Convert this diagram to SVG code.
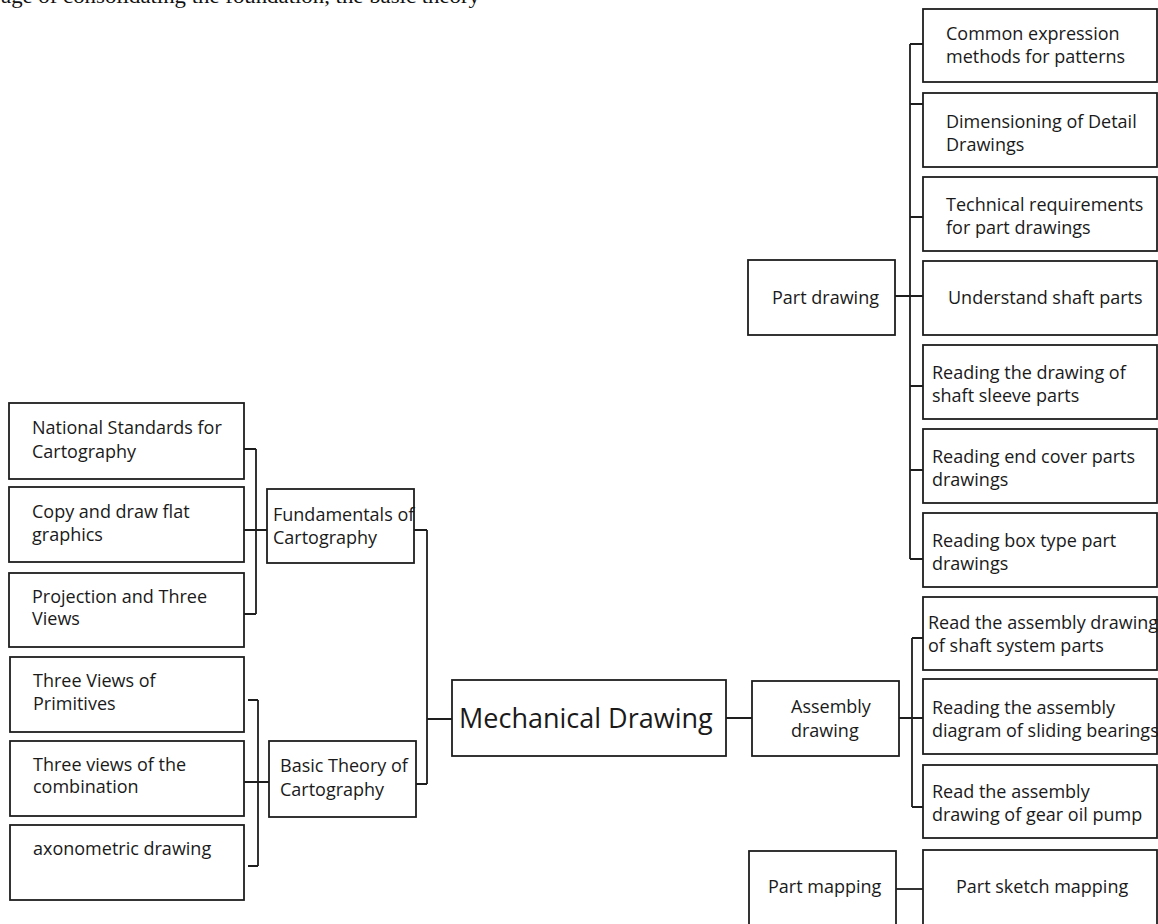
<svg xmlns="http://www.w3.org/2000/svg" width="1158" height="924" viewBox="0 0 1158 924">
<style>
.box{fill:#fff;stroke:#1e1e1e;stroke-width:1.8}
.t{font-family:"Open Sans","Liberation Sans",sans-serif;font-size:18px;fill:#1a1a1a}
.big{font-family:"Open Sans","Liberation Sans",sans-serif;font-size:27px;fill:#1a1a1a}
.c{fill:none;stroke:#1e1e1e;stroke-width:1.8}
.top{font-family:"Liberation Serif",serif;font-size:22px;fill:#111}
</style>
<rect width="1158" height="924" fill="#fff"/>
<text class="top" x="1" y="3" textLength="479" lengthAdjust="spacingAndGlyphs">age of consolidating the foundation, the basic theory</text>

<g id="connectors" class="c">
<path d="M910 44V559M910 44H923M910 104H923M910 217H923M910 386H923M910 470H923M910 559H923M895 296H923"/>
<path d="M912 638V807M912 638H923M912 807H923M899 718H923M726 718H752"/>
<path d="M896 889H923"/>
<path d="M256 449V614M244 449H256M244 614H256M244 530H267"/>
<path d="M414 530H427M427 530V784M416 784H427M427 719H452"/>
<path d="M258 700V866M248 700H258M248 866H258M244 782H269"/>
</g>

<g id="mechanical-drawing"><rect class="box" x="452" y="680" width="274" height="76"/><text class="big" x="459" y="728">Mechanical Drawing</text></g>

<g id="part-drawing"><rect class="box" x="748" y="260" width="147" height="75"/><text class="t" x="772" y="304">Part drawing</text></g>
<g id="common-expression"><rect class="box" x="923" y="9" width="234" height="73"/><text class="t" x="946" y="40">Common expression</text><text class="t" x="946" y="63">methods for patterns</text></g>
<g id="dimensioning"><rect class="box" x="923" y="93" width="234" height="74"/><text class="t" x="946" y="128">Dimensioning of Detail</text><text class="t" x="946" y="151">Drawings</text></g>
<g id="technical-requirements"><rect class="box" x="923" y="177" width="234" height="74"/><text class="t" x="946" y="211">Technical requirements</text><text class="t" x="946" y="234">for part drawings</text></g>
<g id="understand-shaft"><rect class="box" x="923" y="261" width="234" height="74"/><text class="t" x="948" y="304">Understand shaft parts</text></g>
<g id="shaft-sleeve"><rect class="box" x="923" y="345" width="234" height="74"/><text class="t" x="932" y="379">Reading the drawing of</text><text class="t" x="932" y="402">shaft sleeve parts</text></g>
<g id="end-cover"><rect class="box" x="923" y="429" width="234" height="74"/><text class="t" x="932" y="463">Reading end cover parts</text><text class="t" x="932" y="486">drawings</text></g>
<g id="box-type"><rect class="box" x="923" y="513" width="234" height="74"/><text class="t" x="932" y="547">Reading box type part</text><text class="t" x="932" y="570">drawings</text></g>

<g id="assembly-drawing"><rect class="box" x="752" y="681" width="147" height="75"/><text class="t" x="791" y="713">Assembly</text><text class="t" x="791" y="737">drawing</text></g>
<g id="shaft-system"><rect class="box" x="923" y="597" width="234" height="73"/><text class="t" x="928" y="629">Read the assembly drawing</text><text class="t" x="928" y="652">of shaft system parts</text></g>
<g id="sliding-bearings"><rect class="box" x="923" y="679" width="234" height="75"/><text class="t" x="932" y="714">Reading the assembly</text><text class="t" x="932" y="737">diagram of sliding bearings</text></g>
<g id="gear-oil-pump"><rect class="box" x="923" y="765" width="234" height="73"/><text class="t" x="932" y="798">Read the assembly</text><text class="t" x="932" y="821">drawing of gear oil pump</text></g>

<g id="part-mapping"><rect class="box" x="749" y="851" width="147" height="90"/><text class="t" x="768" y="893">Part mapping</text></g>
<g id="part-sketch-mapping"><rect class="box" x="923" y="850" width="234" height="90"/><text class="t" x="956" y="893">Part sketch mapping</text></g>

<g id="fundamentals"><rect class="box" x="267" y="489" width="147" height="74"/><text class="t" x="273" y="521">Fundamentals of</text><text class="t" x="273" y="544">Cartography</text></g>
<g id="national-standards"><rect class="box" x="9" y="403" width="235" height="76"/><text class="t" x="32" y="434">National Standards for</text><text class="t" x="32" y="458">Cartography</text></g>
<g id="copy-draw"><rect class="box" x="9" y="487" width="235" height="75"/><text class="t" x="32" y="518">Copy and draw flat</text><text class="t" x="32" y="541">graphics</text></g>
<g id="projection"><rect class="box" x="9" y="573" width="235" height="74"/><text class="t" x="32" y="603">Projection and Three</text><text class="t" x="32" y="625">Views</text></g>

<g id="basic-theory"><rect class="box" x="269" y="741" width="147" height="76"/><text class="t" x="280" y="772">Basic Theory of</text><text class="t" x="280" y="796">Cartography</text></g>
<g id="primitives"><rect class="box" x="10" y="657" width="234" height="75"/><text class="t" x="33" y="687">Three Views of</text><text class="t" x="33" y="710">Primitives</text></g>
<g id="combination"><rect class="box" x="10" y="741" width="234" height="75"/><text class="t" x="33" y="771">Three views of the</text><text class="t" x="33" y="793">combination</text></g>
<g id="axonometric"><rect class="box" x="10" y="825" width="234" height="75"/><text class="t" x="33" y="855">axonometric drawing</text></g>
</svg>
